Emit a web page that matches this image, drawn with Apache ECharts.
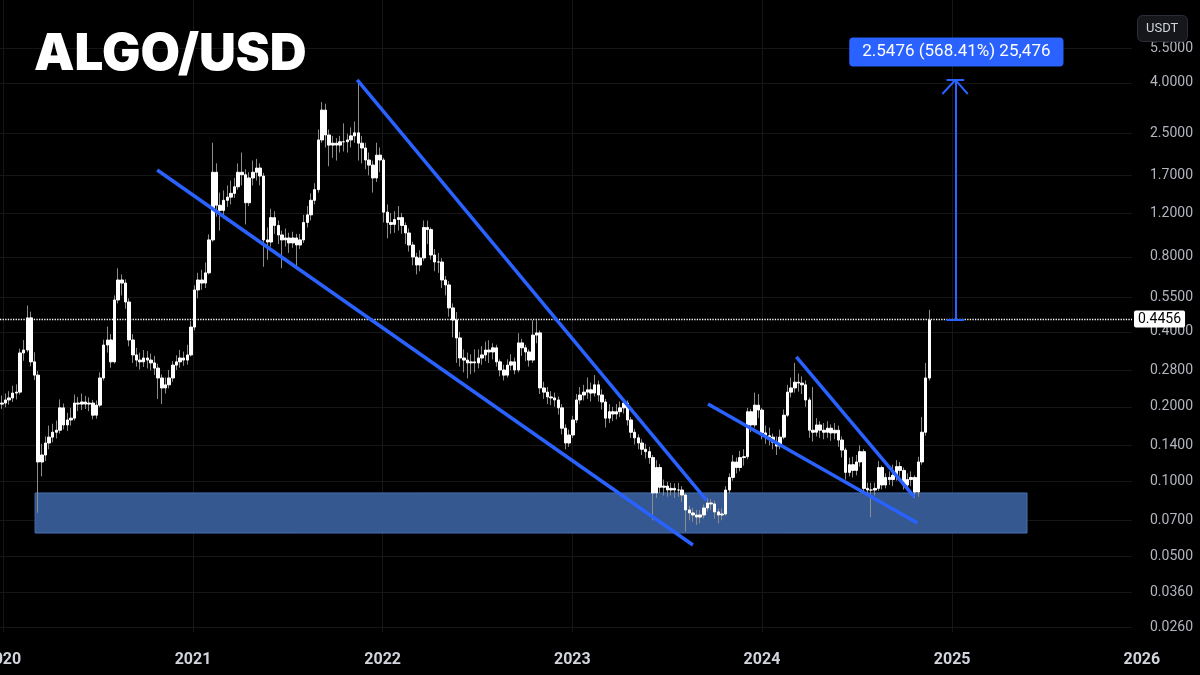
<!DOCTYPE html>
<html>
<head>
<meta charset="utf-8">
<title>ALGO/USD</title>
<script src="https://cdn.jsdelivr.net/npm/echarts@6/dist/echarts.min.js"></script>
<style>
html, body { margin: 0; padding: 0; background: #000; }
#chart { width: 1200px; height: 675px; }
</style>
</head>
<body>
<div id="chart"></div>
<script>
// weekly candles, first one on this monday
var firstWeek = '2019-12-30';

var openVals = [
	0.205,0.207,0.213,0.217,0.227,0.229,0.329,0.338,0.455,0.303,
	0.268,0.120,0.128,0.143,0.151,0.158,0.161,0.198,0.169,0.177,
	0.180,0.207,0.205,0.209,0.205,0.207,0.185,0.203,0.261,0.354,
	0.371,0.303,0.537,0.646,0.628,0.527,0.371,0.323,0.308,0.303,
	0.314,0.308,0.300,0.286,0.261,0.238,0.245,0.261,0.294,0.303,
	0.314,0.308,0.323,0.418,0.589,0.646,0.628,0.690,0.936,1.75,
	1.29,1.23,1.35,1.39,1.44,1.53,1.75,1.71,1.32,1.66,
	1.75,1.82,1.69,0.936,0.918,1.15,1.07,0.980,0.936,0.953,
	0.910,0.953,0.893,0.936,1.10,1.18,1.35,1.49,2.36,3.11,
	2.47,2.25,2.29,2.25,2.32,2.32,2.36,2.45,2.52,2.29,
	2.19,1.96,1.87,1.66,2.05,1.96,1.21,1.10,1.08,1.13,
	1.15,1.07,0.998,0.893,0.799,0.742,0.792,1.05,1.03,0.814,
	0.763,0.763,0.646,0.617,0.499,0.446,0.378,0.314,0.308,0.300,
	0.303,0.300,0.314,0.323,0.338,0.332,0.345,0.303,0.281,0.268,
	0.294,0.303,0.281,0.361,0.345,0.332,0.308,0.388,0.396,0.238,
	0.229,0.219,0.217,0.213,0.198,0.164,0.143,0.154,0.177,0.213,
	0.223,0.229,0.234,0.227,0.245,0.223,0.209,0.180,0.191,0.187,
	0.191,0.198,0.207,0.177,0.158,0.150,0.143,0.135,0.132,0.125,
	0.0901,0.114,0.0950,0.0960,0.0926,0.0940,0.0926,0.0926,0.0884,0.0770,
	0.0749,0.0735,0.0721,0.0735,0.0784,0.0821,0.0814,0.0756,0.0735,0.0742,
	0.0926,0.104,0.120,0.114,0.125,0.126,0.191,0.169,0.203,0.194,
	0.157,0.153,0.151,0.144,0.139,0.151,0.185,0.229,0.238,0.251,
	0.249,0.245,0.213,0.161,0.158,0.169,0.161,0.158,0.164,0.157,
	0.161,0.147,0.134,0.109,0.117,0.111,0.120,0.132,0.0940,0.0926,
	0.0926,0.0940,0.114,0.0970,0.104,0.102,0.106,0.115,0.111,0.0970,
	0.102,0.104,0.0909,0.120,0.158,0.261
];
var closeVals = [
	0.207,0.213,0.217,0.227,0.229,0.329,0.338,0.455,0.303,0.268,
	0.120,0.128,0.143,0.151,0.158,0.161,0.198,0.169,0.177,0.180,
	0.207,0.205,0.209,0.205,0.207,0.185,0.203,0.261,0.354,0.371,
	0.303,0.537,0.646,0.628,0.527,0.371,0.323,0.308,0.303,0.314,
	0.308,0.300,0.286,0.261,0.238,0.245,0.261,0.294,0.303,0.314,
	0.308,0.323,0.418,0.589,0.646,0.628,0.690,0.936,1.75,1.29,
	1.23,1.35,1.39,1.44,1.53,1.75,1.71,1.32,1.66,1.75,
	1.82,1.69,0.936,0.918,1.15,1.07,0.980,0.936,0.953,0.910,
	0.953,0.893,0.936,1.10,1.18,1.35,1.49,2.36,3.11,2.47,
	2.25,2.29,2.25,2.32,2.32,2.36,2.45,2.52,2.29,2.19,
	1.96,1.87,1.66,2.05,1.96,1.21,1.10,1.08,1.13,1.15,
	1.07,0.998,0.893,0.799,0.742,0.792,1.05,1.03,0.814,0.763,
	0.763,0.646,0.617,0.499,0.446,0.378,0.314,0.308,0.300,0.303,
	0.300,0.314,0.323,0.338,0.332,0.345,0.303,0.281,0.268,0.294,
	0.303,0.281,0.361,0.345,0.332,0.308,0.388,0.396,0.238,0.229,
	0.219,0.217,0.213,0.198,0.164,0.143,0.154,0.177,0.213,0.223,
	0.229,0.234,0.227,0.245,0.223,0.209,0.180,0.191,0.187,0.191,
	0.198,0.207,0.177,0.158,0.150,0.143,0.135,0.132,0.125,0.0901,
	0.114,0.0950,0.0960,0.0926,0.0940,0.0926,0.0926,0.0884,0.0770,0.0749,
	0.0735,0.0721,0.0735,0.0784,0.0821,0.0814,0.0756,0.0735,0.0742,0.0926,
	0.104,0.120,0.114,0.125,0.126,0.191,0.169,0.203,0.194,0.157,
	0.153,0.151,0.144,0.139,0.151,0.185,0.229,0.238,0.251,0.249,
	0.245,0.213,0.161,0.158,0.169,0.161,0.158,0.164,0.157,0.161,
	0.147,0.134,0.109,0.117,0.111,0.120,0.132,0.0940,0.0926,0.0926,
	0.0940,0.114,0.0970,0.104,0.102,0.106,0.115,0.111,0.0970,0.102,
	0.104,0.0909,0.120,0.158,0.261,0.4456
];
var lowVals = [
	0.196,0.199,0.204,0.209,0.214,0.224,0.306,0.331,0.291,0.256,
	0.075,0.105,0.121,0.135,0.144,0.149,0.156,0.162,0.160,0.168,
	0.176,0.192,0.194,0.196,0.192,0.178,0.179,0.199,0.255,0.330,
	0.287,0.298,0.520,0.560,0.495,0.350,0.300,0.290,0.282,0.289,
	0.285,0.280,0.268,0.215,0.205,0.226,0.237,0.252,0.281,0.287,
	0.292,0.295,0.318,0.405,0.545,0.590,0.600,0.680,0.920,1.16,
	1.02,1.14,1.27,1.30,1.38,1.49,1.55,1.08,1.28,1.55,
	1.62,1.55,0.730,0.780,0.880,0.990,0.900,0.720,0.880,0.830,
	0.870,0.730,0.860,0.910,1.05,1.12,1.30,1.45,2.30,2.20,
	1.85,2.00,1.95,2.10,2.12,2.10,2.20,2.30,1.95,1.90,
	1.80,1.70,1.45,1.60,1.75,1.10,0.950,0.990,1.00,1.02,
	0.990,0.900,0.840,0.740,0.680,0.700,0.770,0.900,0.780,0.700,
	0.690,0.600,0.560,0.460,0.380,0.300,0.290,0.275,0.260,0.270,
	0.275,0.285,0.295,0.305,0.300,0.310,0.290,0.265,0.255,0.262,
	0.280,0.270,0.275,0.320,0.305,0.290,0.300,0.360,0.225,0.215,
	0.205,0.203,0.200,0.186,0.155,0.135,0.138,0.150,0.172,0.205,
	0.212,0.215,0.210,0.220,0.210,0.195,0.165,0.172,0.175,0.178,
	0.182,0.188,0.168,0.150,0.141,0.135,0.128,0.124,0.118,0.0700,
	0.0860,0.0900,0.0880,0.0870,0.0880,0.0860,0.0870,0.0830,0.0630,0.0700,
	0.0690,0.0670,0.0680,0.0710,0.0760,0.0770,0.0710,0.0680,0.0700,0.0730,
	0.0900,0.101,0.108,0.110,0.116,0.123,0.158,0.165,0.180,0.148,
	0.142,0.140,0.135,0.128,0.135,0.148,0.182,0.218,0.228,0.230,
	0.225,0.200,0.150,0.145,0.152,0.150,0.148,0.150,0.146,0.148,
	0.138,0.125,0.102,0.105,0.104,0.106,0.115,0.0900,0.0880,0.0720,
	0.0880,0.0920,0.0930,0.0940,0.0970,0.0960,0.101,0.105,0.0930,0.0920,
	0.0960,0.0860,0.0870,0.117,0.153,0.255
];
var highVals = [
	0.222,0.226,0.231,0.243,0.246,0.342,0.371,0.510,0.482,0.331,
	0.279,0.142,0.152,0.168,0.171,0.176,0.214,0.206,0.189,0.198,
	0.224,0.219,0.226,0.221,0.218,0.213,0.212,0.275,0.372,0.420,
	0.392,0.560,0.720,0.680,0.650,0.545,0.392,0.345,0.330,0.338,
	0.335,0.327,0.320,0.298,0.270,0.262,0.281,0.305,0.322,0.338,
	0.333,0.355,0.442,0.615,0.690,0.710,0.760,0.985,2.30,1.90,
	1.45,1.48,1.55,1.62,1.66,1.90,2.10,1.80,1.75,1.95,
	1.98,1.90,1.74,1.05,1.25,1.22,1.12,1.02,1.04,1.00,
	1.01,0.990,0.990,1.18,1.28,1.44,1.58,2.60,3.35,3.30,
	2.60,2.45,2.40,2.45,2.75,2.50,2.65,2.80,4.10,2.45,
	2.30,2.10,1.95,2.30,2.20,2.00,1.30,1.20,1.22,1.28,
	1.20,1.10,1.04,0.920,0.830,0.850,1.12,1.12,1.05,0.860,
	0.830,0.790,0.670,0.640,0.520,0.480,0.400,0.340,0.330,0.325,
	0.340,0.340,0.350,0.365,0.370,0.360,0.355,0.310,0.295,0.310,
	0.325,0.315,0.395,0.375,0.355,0.340,0.445,0.445,0.405,0.252,
	0.240,0.231,0.228,0.220,0.205,0.170,0.162,0.184,0.225,0.240,
	0.245,0.262,0.250,0.268,0.255,0.235,0.215,0.205,0.200,0.205,
	0.210,0.215,0.212,0.182,0.163,0.155,0.148,0.142,0.138,0.128,
	0.122,0.118,0.102,0.100,0.0990,0.0985,0.0990,0.0960,0.0900,0.0800,
	0.0785,0.0770,0.0770,0.0810,0.0860,0.0850,0.0840,0.0780,0.0780,0.0960,
	0.108,0.128,0.125,0.133,0.135,0.198,0.196,0.228,0.225,0.198,
	0.168,0.165,0.156,0.152,0.162,0.195,0.245,0.262,0.300,0.272,
	0.265,0.255,0.218,0.240,0.180,0.175,0.172,0.175,0.170,0.172,
	0.168,0.152,0.137,0.125,0.126,0.128,0.140,0.135,0.0990,0.0990,
	0.0990,0.121,0.116,0.108,0.110,0.117,0.122,0.120,0.114,0.108,
	0.110,0.106,0.126,0.182,0.300,0.490
];

var priceTicks = [5.5, 4, 2.5, 1.7, 1.2, 0.8, 0.55, 0.4, 0.28, 0.2, 0.14, 0.1, 0.07, 0.05, 0.036, 0.026];
var yearTicks = ['2020-01-01', '2021-01-01', '2022-01-01', '2023-01-01', '2024-01-01', '2025-01-01', '2026-01-01'];

var lastPrice = 0.4456;
var measureText = '2.5476 (568.41%) 25,476';

// drawn annotations [date, price]
var supportZone = [['2020-03-03', 0.0901], ['2025-05-25', 0.0622]];
var trendLines = [
	[['2020-10-24', 1.787], ['2023-08-21', 0.0557]],
	[['2021-11-13', 4.11], ['2023-09-16', 0.0844]],
	[['2023-09-19', 0.205], ['2024-10-26', 0.0683]],
	[['2024-03-07', 0.317], ['2024-10-20', 0.0868]]
];
var measureX = '2025-01-07';
var measureTop = 4.11;

var BLUE = '#2962ff';

function ts(s) {
	return new Date(s.length > 10 ? s : s + 'T00:00:00').getTime();
}

function buildData() {
	var t0 = ts(firstWeek);
	var wicks = [];
	var bodies = [];
	for (var i = 0; i < closeVals.length; i++) {
		var t = t0 + i * 7 * 86400000;
		var o = openVals[i], c = closeVals[i];
		wicks.push([t, o, c, lowVals[i], highVals[i]]);
		bodies.push([t, o, c, Math.min(o, c), Math.max(o, c)]);// 只画实体
	}
	return { wicks: wicks, bodies: bodies };
}

var d = buildData();
var yMin = 0.0249, yMax = 8.61;
var xStart = ts('2019-12-26T12:00:00');
var xEndPlot = ts('2025-12-13');
var xEndAll = ts('2026-04-23');

var option = {
	backgroundColor: '#000000',
	animation: false,
	title: [{
		text: 'ALGO/USD',
		left: 29,
		top: 24,
		textStyle: { color: '#ffffff', fontSize: 51, fontWeight: 900, fontFamily: 'Inter' }
	}, {
		text: 'USDT',
		left: 1137,
		top: 15,
		backgroundColor: '#16171b',
		borderColor: '#2a2e39',
		borderWidth: 1,
		borderRadius: 5,
		padding: [7, 9, 7, 9],
		textStyle: { color: '#d1d4dc', fontSize: 13, fontWeight: 'normal', fontFamily: 'Roboto' }
	}],
	grid: [
		{ left: 0, top: 0, width: 1132, bottom: 43, outerBoundsMode: 'none' },
		{ left: 0, top: 0, right: 0, bottom: 43, outerBoundsMode: 'none' }
	],
	xAxis: [{
		type: 'time', gridIndex: 0, min: xStart, max: xEndPlot,
		axisLine: { show: false },
		axisTick: { show: false, customValues: yearTicks.map(ts) },
		axisLabel: { show: false },
		splitLine: { show: true, lineStyle: { color: '#161616', width: 1 } }
	}, {
		// 只显示年份
		type: 'value', gridIndex: 1, min: xStart, max: xEndAll,
		axisLine: { show: false },
		axisTick: { show: false },
		axisLabel: {
			customValues: yearTicks.map(ts),
			formatter: function(v) { return new Date(v).getFullYear(); },
			color: '#d1d4dc', fontSize: 16, fontWeight: 'bold', fontFamily: 'Roboto',
			margin: 20
		},
		splitLine: { show: false }
	}],
	yAxis: [{
		type: 'log', gridIndex: 0, position: 'right', min: yMin, max: yMax,
		axisLine: { show: false },
		axisTick: { show: false, customValues: priceTicks },
		axisLabel: { show: false },
		splitLine: { show: true, lineStyle: { color: '#161616', width: 1 } }
	}, {
		type: 'log', gridIndex: 1, position: 'right', min: yMin, max: yMax,
		axisLine: { show: false },
		axisTick: { show: false },
		axisLabel: {
			inside: true,
			customValues: priceTicks,
			formatter: function(v) { return Number(v).toFixed(4); },
			color: '#b2b5be', fontSize: 14, fontFamily: 'Roboto',
			margin: 7
		},
		splitLine: { show: false }
	}],
	series: [{
		// support zone
		type: 'line', xAxisIndex: 0, yAxisIndex: 0, data: [], z: 1, silent: true,
		markArea: {
			silent: true,
			itemStyle: { color: '#355891', borderColor: '#4670b0', borderWidth: 1 },
			data: [[{ coord: supportZone[0] }, { coord: supportZone[1] }]]
		}
	}, {
		// wicks
		type: 'candlestick', xAxisIndex: 0, yAxisIndex: 0, z: 2,
		data: d.wicks,
		encode: { x: 0, y: [1, 2, 3, 4] },
		barWidth: 1,
		itemStyle: { color: '#8c8c8c', color0: '#8c8c8c', borderColor: '#8c8c8c', borderColor0: '#8c8c8c', borderWidth: 1 }
	}, {
		// bodies
		type: 'candlestick', xAxisIndex: 0, yAxisIndex: 0, z: 3,
		data: d.bodies,
		encode: { x: 0, y: [1, 2, 3, 4] },
		barWidth: 3,
		itemStyle: { color: '#ffffff', color0: '#ffffff', borderColor: '#ffffff', borderColor0: '#ffffff', borderWidth: 1 },
		markLine: {
			silent: true,
			symbol: ['none', 'none'],
			lineStyle: { color: '#ffffff', type: 'dotted', width: 1.3 },
			label: {
				position: 'end', distance: 2,
				formatter: String(lastPrice),
				backgroundColor: '#ffffff', color: '#000000',
				fontSize: 14, fontFamily: 'Roboto',
				padding: [2, 4, 1, 4], borderRadius: 2
			},
			data: [{ yAxis: lastPrice }]
		}
	}, {
		// trend lines
		type: 'line', xAxisIndex: 0, yAxisIndex: 0, data: [], z: 5, silent: true,
		markLine: {
			silent: true,
			symbol: ['none', 'none'],
			lineStyle: { color: BLUE, type: 'solid', width: 3.5 },
			label: { show: false },
			data: trendLines.map(function(l) {
				return [{ coord: l[0] }, { coord: l[1] }];
			})
		}
	}, {
		// measuring arrow
		type: 'line', xAxisIndex: 0, yAxisIndex: 0, data: [], z: 6, silent: true,
		markLine: {
			silent: true,
			symbol: ['none', 'none'],
			lineStyle: { color: BLUE, type: 'solid', width: 2 },
			label: { show: false },
			data: [
				[{ coord: [measureX, lastPrice] }, { coord: [measureX, measureTop] }],
				[{ coord: ['2024-12-21', lastPrice] }, { coord: ['2025-01-24', lastPrice] }],
				[{ coord: ['2024-12-21', measureTop] }, { coord: ['2025-01-24', measureTop] }],
				[{ coord: ['2024-12-13', 3.61] }, { coord: [measureX, measureTop] }],
				[{ coord: ['2025-01-31', 3.61] }, { coord: [measureX, measureTop] }]
			]
		},
		markPoint: {
			silent: true,
			symbol: 'circle',
			symbolSize: 0,
			label: {
				show: true, position: 'inside',
				formatter: measureText,
				color: '#ffffff', fontSize: 17, fontFamily: 'Roboto',
				backgroundColor: BLUE, borderRadius: 4,
				padding: [6, 13, 6, 13]
			},
			data: [{ coord: ['2025-01-09', 5.32] }]
		}
	}]
};

var chart = echarts.init(document.getElementById('chart'));
chart.setOption(option);
</script>
</body>
</html>
